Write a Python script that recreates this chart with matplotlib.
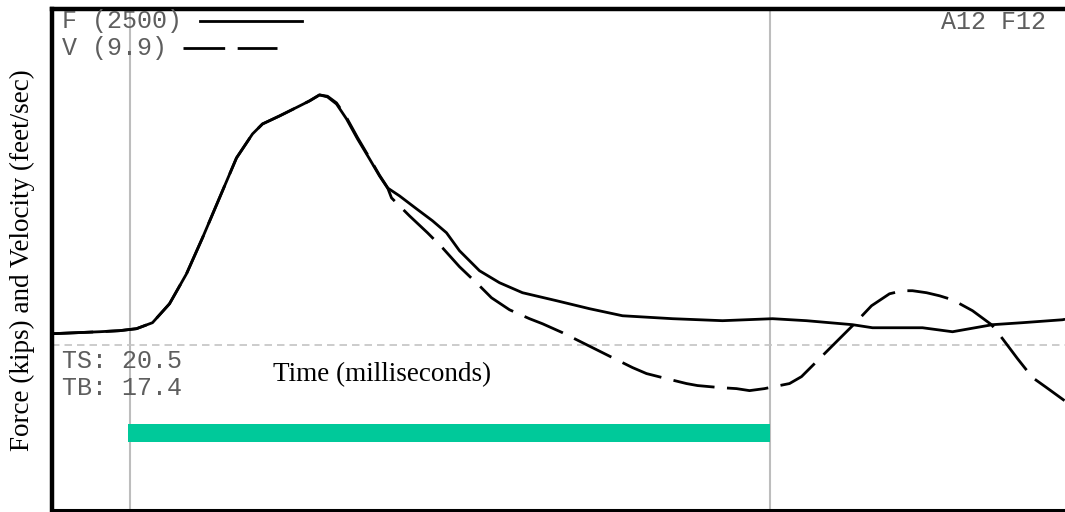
import matplotlib
matplotlib.use("Agg")
import matplotlib.pyplot as plt
from matplotlib.lines import Line2D

# ---- data (time in ms, force / velocity*Z in kips) ----
force_t = [0.0, 2.4, 3.4, 4.25, 5.05, 5.9, 6.75, 7.55, 8.4, 9.25, 10.05, 10.55, 11.4,
           12.4, 12.9, 13.4, 13.8, 14.25, 14.75, 15.3, 15.9, 16.4, 16.8, 17.4, 18.25,
           19.05, 19.75, 20.4, 21.4, 22.4, 23.55, 25.25, 26.9, 28.55, 31.05, 33.55,
           36.05, 37.75, 40.05, 41.05, 43.55, 45.05, 47.05, 48.55, 50.55, 50.65]
force_v = [82, 97, 105, 120, 165, 307, 532, 802, 1102, 1402, 1582, 1657, 1717,
           1792, 1830, 1875, 1860, 1807, 1695, 1545, 1395, 1267, 1177, 1117, 1020,
           930, 840, 705, 555, 465, 390, 330, 270, 217, 195, 180,
           195, 180, 150, 127, 127, 97, 150, 165, 187, 190]

vel_t = [0.0, 2.4, 3.4, 4.25, 5.05, 5.9, 6.75, 7.55, 8.4, 9.25, 10.05, 10.55, 11.4,
         12.4, 12.9, 13.4, 13.8, 14.25, 14.75, 15.3, 15.9, 16.4, 16.8, 17.0, 17.9, 18.8,
         19.55, 20.4, 21.4, 22.0, 22.9, 23.9, 24.55, 25.55, 26.55, 27.15, 28.15, 29.05,
         29.75, 30.75, 31.75, 32.3, 33.4, 34.25, 34.9, 35.65, 36.4, 36.9, 37.5, 38.4,
         39.4, 40.15, 41.0, 41.9, 42.55, 43.05, 43.75, 44.4, 45.05, 46.05, 47.0, 47.55,
         48.3, 49.05, 49.75, 50.65]
vel_v = [82, 97, 105, 120, 165, 307, 532, 802, 1102, 1402, 1582, 1657, 1717,
         1792, 1830, 1875, 1865, 1815, 1705, 1555, 1402, 1272, 1180, 1102, 967, 840,
         727, 585, 442, 352, 262, 195, 157, 90, 15, -30, -105, -172,
         -217, -255, -292, -307, -322, -330, -345, -330, -307, -292, -240, -105,
         45, 157, 292, 382, 405, 405, 390, 367, 337, 255, 150, 45,
         -105, -247, -322, -420]

marker_times = [3.9, 35.9]          # grey vertical lines
bar_start, bar_end = 3.8, 35.9      # teal bar
bar_low, bar_high = -727, -592

legend_labels = ["F (2500)", "V (9.9)"]
info_labels = ["TS: 20.5", "TB: 17.4"]
corner_label = "A12 F12"
x_label = "Time (milliseconds)"
y_label = "Force (kips) and Velocity (feet/sec)"

W, H = 1065, 512
fig = plt.figure(figsize=(W / 100, H / 100), dpi=100)
ax = fig.add_axes([51.5 / W, 2.5 / H, 1 - 51.5 / W, 1 - 11.5 / H])
ax.set_xlim(0, (W - 51.5) / 20)
ax.set_ylim(-1237.5, 2520)

ax.spines["right"].set_visible(False)
ax.spines["left"].set_linewidth(3.2)
ax.spines["top"].set_linewidth(3.2)
ax.spines["bottom"].set_linewidth(2.2)
ax.set_xticks([])
ax.set_yticks([])

for mt in marker_times:
    ax.axvline(mt, color="#bdbdbd", lw=1.5, zorder=1)
ax.axhline(0, color="#c4c4c4", lw=1.2, dashes=(4.5, 3), zorder=1)

ax.fill_between([bar_start, bar_end], bar_low, bar_high, color="#00C99A", lw=0, zorder=2)

ax.plot(force_t, force_v, color="black", lw=2, solid_joinstyle="round",
        solid_capstyle="round", zorder=3)
ax.plot(vel_t, vel_v, color="black", lw=2, dashes=(15, 4.5), zorder=3)


def px(x, y):
    return x / W, 1 - y / H


mono = dict(family="Liberation Mono", fontsize=18, color="#5e5e5e", va="center")
fig.text(*px(62, 21), legend_labels[0], **mono)
fig.text(*px(62, 48), legend_labels[1], **mono)
fig.text(*px(1046, 22), corner_label, ha="right", **mono)
fig.text(*px(62, 361), info_labels[0], **mono)
fig.text(*px(62, 388), info_labels[1], **mono)

x0, y0 = px(200, 21)
x1, _ = px(302, 21)
fig.add_artist(Line2D([x0, x1], [y0, y0], color="black", lw=2, transform=fig.transFigure))
x0, y0 = px(183, 48)
x1, _ = px(277, 48)
fig.add_artist(Line2D([x0, x1], [y0, y0], color="black", lw=2, dashes=(15, 4.5),
                      transform=fig.transFigure))

serif = dict(family="Liberation Serif", fontsize=19.5, color="black")
fig.text(*px(273, 375), x_label, va="center", ha="left", **serif)
fig.text(*px(22, 260), y_label, va="center", ha="center", rotation=90, **serif)

fig.savefig("out.png", dpi=100)
